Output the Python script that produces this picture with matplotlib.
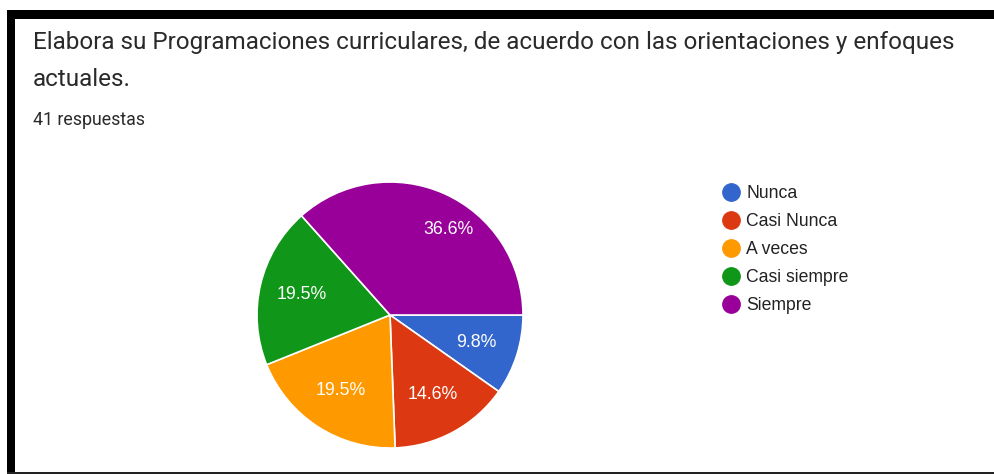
import numpy as np
import matplotlib
matplotlib.use("Agg")
import matplotlib.pyplot as plt
from matplotlib.lines import Line2D
from matplotlib.patches import Rectangle

categories = ["Nunca", "Casi Nunca", "A veces", "Casi siempre", "Siempre"]
counts = [4, 6, 8, 8, 15]
colors = ["#3366cc", "#dc3912", "#ff9900", "#109618", "#990099"]
title_line1 = "Elabora su Programaciones curriculares, de acuerdo con las orientaciones y enfoques"
title_line2 = "actuales."
subtitle = "41 respuestas"

W, H = 995, 474
fig = plt.figure(figsize=(W / 100, H / 100), dpi=100)
fig.patch.set_facecolor("white")

# frame
fig.add_artist(Rectangle((7 / W, 1 - 19 / H), (W - 7) / W, 9 / H, transform=fig.transFigure,
                         facecolor="black", edgecolor="none"))
fig.add_artist(Rectangle((7 / W, 0), 8 / W, 1 - 10 / H, transform=fig.transFigure,
                         facecolor="black", edgecolor="none"))
fig.add_artist(Rectangle((7 / W, 0), (W - 7) / W, 2 / H, transform=fig.transFigure,
                         facecolor="#222222", edgecolor="none"))

# title texts
fig.text(33 / W, 1 - 42 / H, title_line1, fontsize=17.45, family="Roboto", color="#2a2a2a",
         ha="left", va="center")
fig.text(33 / W, 1 - 80 / H, title_line2, fontsize=17.45, family="Roboto", color="#2a2a2a",
         ha="left", va="center")
fig.text(33 / W, 1 - 120 / H, subtitle, fontsize=12.8, family="Roboto", color="#2a2a2a",
         ha="left", va="center")

# pie
cx, cy, r = 390, 315, 133
ax = fig.add_axes([(cx - r) / W, (H - cy - r) / H, 2 * r / W, 2 * r / H])
wedges, texts, autotexts = ax.pie(
    counts, colors=colors, startangle=0, counterclock=False, radius=1,
    autopct="%1.1f%%", pctdistance=0.68,
    wedgeprops=dict(edgecolor="white", linewidth=1.2),
    textprops=dict(color="white", fontsize=12.8, family="Liberation Sans"))
# the large slice label sits a bit further out, as in the source chart
w = wedges[-1]
ang = np.deg2rad(0.5 * (w.theta1 + w.theta2) - 10)
autotexts[-1].set_position((0.78 * np.cos(ang), 0.78 * np.sin(ang)))
ax.set_xlim(-1, 1)
ax.set_ylim(-1, 1)
ax.set_aspect("equal")
ax.axis("off")

# legend
handles = [Line2D([0], [0], marker="o", linestyle="none", markersize=12.5,
                  markerfacecolor=c, markeredgecolor=c) for c in colors]
leg = fig.legend(handles, categories, loc="upper left",
                 bbox_to_anchor=(720 / W, 1 - 185 / H), frameon=False,
                 prop=dict(family="Liberation Sans", size=12.7),
                 labelspacing=0.62, handletextpad=0.3, handlelength=1.2,
                 borderpad=0, borderaxespad=0)
for t in leg.get_texts():
    t.set_color("#222222")

fig.savefig("out.png", dpi=100, facecolor="white")
